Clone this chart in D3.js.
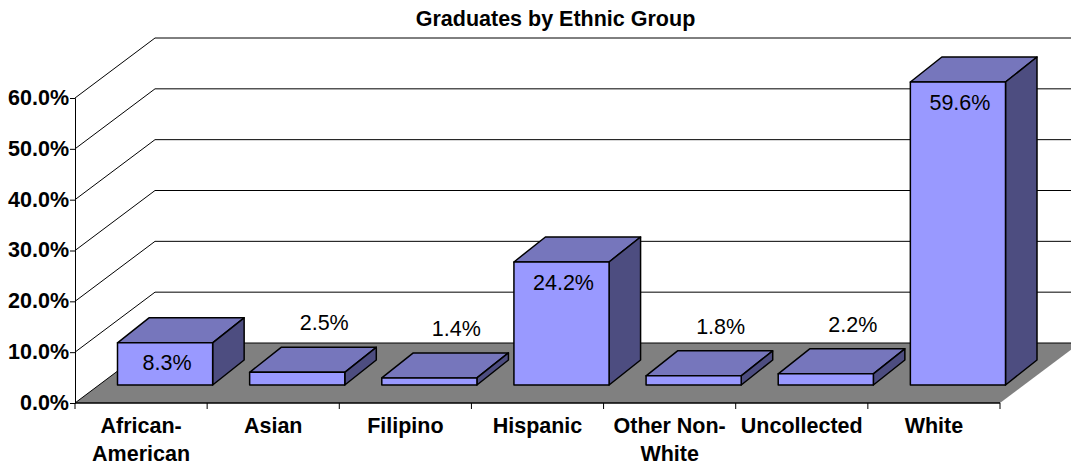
<!DOCTYPE html>
<html>
<head>
<meta charset="utf-8">
<script src="https://cdn.jsdelivr.net/npm/d3@7"></script>
<style>
html,body{margin:0;padding:0;background:#fff;overflow:hidden}
svg{display:block}
text{font-family:"Liberation Sans",Arial,sans-serif;fill:#000}
</style>
</head>
<body>
<svg id="c" width="1071" height="468"></svg>
<script>
const titleText = "Graduates by Ethnic Group";
const categories = ["African-American","Asian","Filipino","Hispanic","Other Non-White","Uncollected","White"];
const categoryLines = [["African-","American"],["Asian"],["Filipino"],["Hispanic"],["Other Non-","White"],["Uncollected"],["White"]];
const values = [8.3,2.5,1.4,24.2,1.8,2.2,59.6];
const valueLabels = ["8.3%","2.5%","1.4%","24.2%","1.8%","2.2%","59.6%"];
const yTicks = [0,10,20,30,40,50,60];

const svg = d3.select("#c");
const x = d3.scaleBand().domain(categories).range([75,1000]).paddingInner(0).paddingOuter(0);
const y = d3.scaleLinear().domain([0,60]).range([403,98]);
const backDx = 80, backDy = 60;      // plot depth
const barDx = 31.5, barDy = 25;      // bar depth
const liftX = 24, liftY = 18;        // bar offset from front of floor
const gap = 18.5;
const stroke = "#000";
const line = d3.line();

// floor
svg.append("path")
  .attr("d", line([[x.range()[0],y(0)],[x.range()[1],y(0)],[x.range()[1]+backDx,y(0)-backDy],[x.range()[0]+backDx,y(0)-backDy]])+"Z")
  .attr("fill","#808080");

// gridlines
yTicks.forEach(t=>{
  svg.append("path")
    .attr("d", line([[75,y(t)],[75+backDx,y(t)-backDy],[1071,y(t)-backDy]]))
    .attr("fill","none").attr("stroke","#000").attr("stroke-width",1);
});
svg.append("line").attr("x1",75).attr("x2",1000).attr("y1",y(0)).attr("y2",y(0)).attr("stroke","#000").attr("stroke-width",1.4);

// axes
const yAxis = d3.axisLeft(y).tickValues(yTicks).tickFormat(d=>d3.format(".1f")(d)+"%").tickSize(5).tickPadding(1);
const gy = svg.append("g").attr("transform","translate(75,0)").call(yAxis);
gy.select(".domain").attr("stroke","#000");
gy.selectAll("text").attr("font-size",21.5).attr("font-weight","bold").attr("dy","0.3em").style("font-family",'"Liberation Sans",Arial,sans-serif');

const tickX = categories.map(c=>x(c)).concat([x.range()[1]]);
svg.selectAll(".xt").data(tickX).join("line").attr("class","xt")
  .attr("x1",d=>d).attr("x2",d=>d).attr("y1",y(0)).attr("y2",y(0)+6).attr("stroke","#000");

// bars
const fronts = categories.map((c,i)=>{
  const x0 = x(c)+liftX+gap, x1 = x0+x.bandwidth()-2*gap;
  const yb = y(0)-liftY, yt = yb-(y(0)-y(values[i]));
  return {x0,x1,yb,yt,i};
});
const g = svg.append("g").attr("stroke",stroke).attr("stroke-width",1.5).attr("stroke-linejoin","round");
fronts.forEach(b=>{
  g.append("path").attr("fill","#7676BC").attr("d",line([[b.x0,b.yt],[b.x1,b.yt],[b.x1+barDx,b.yt-barDy],[b.x0+barDx,b.yt-barDy]])+"Z");
  g.append("path").attr("fill","#4D4D80").attr("d",line([[b.x1,b.yt],[b.x1+barDx,b.yt-barDy],[b.x1+barDx,b.yb-barDy],[b.x1,b.yb]])+"Z");
  g.append("rect").attr("fill","#9999FF").attr("x",b.x0).attr("y",b.yt).attr("width",b.x1-b.x0).attr("height",b.yb-b.yt);
});

// value labels
fronts.forEach(b=>{
  const tall = values[b.i] > 5;
  const cx = (b.x0+b.x1)/2 + (tall?2:27);
  const cy = b.yt + (tall?20:-49.5);
  svg.append("text").attr("x",cx).attr("y",cy).attr("dy","0.35em").attr("text-anchor","middle")
    .attr("font-size",21.5).text(valueLabels[b.i]);
});

// category labels
categoryLines.forEach((ls,i)=>{
  const cx = x(categories[i])+x.bandwidth()/2;
  ls.forEach((s,j)=>{
    svg.append("text").attr("x",cx).attr("y",433+27.5*j).attr("text-anchor","middle")
      .attr("font-size",21.5).attr("font-weight","bold").text(s);
  });
});

// title
svg.append("text").attr("x",555.5).attr("y",26).attr("text-anchor","middle")
  .attr("font-size",21.5).attr("font-weight","bold").text(titleText);
</script>
</body>
</html>
